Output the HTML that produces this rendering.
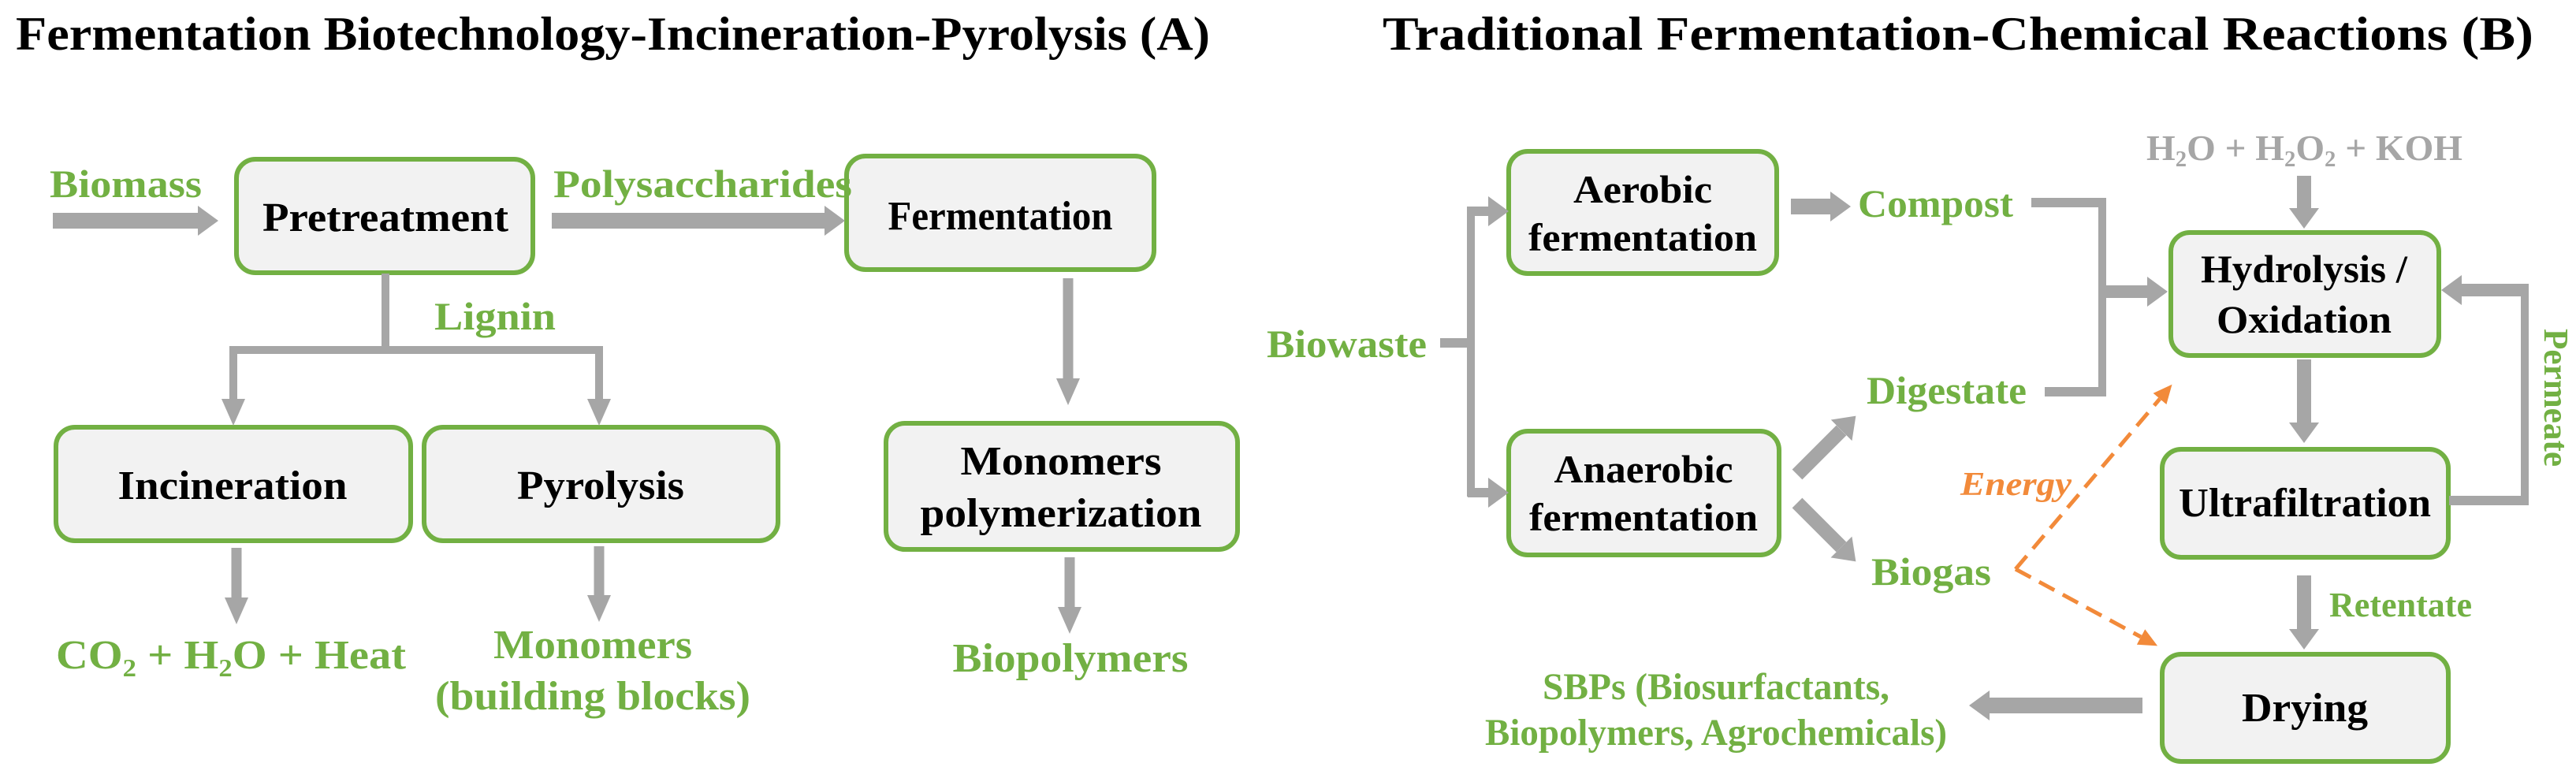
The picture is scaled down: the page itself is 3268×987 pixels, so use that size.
<!DOCTYPE html>
<html><head><meta charset="utf-8"><style>
html,body{margin:0;padding:0;background:#fff;}
svg{display:block;}
.t{font-family:"Liberation Serif","Times New Roman",serif;font-weight:bold;}
.g{fill:#72b043;}
.k{fill:#000;}
</style></head><body>
<svg width="3268" height="987" viewBox="0 0 3268 987" xmlns="http://www.w3.org/2000/svg">
<defs>
<marker id="hb" markerUnits="userSpaceOnUse" markerWidth="26" markerHeight="38" viewBox="0 0 26 38" refX="0" refY="19" orient="auto"><path d="M0,0 L26,19 L0,38 z" fill="#a6a6a6"/></marker>
<marker id="hs" markerUnits="userSpaceOnUse" markerWidth="34" markerHeight="30" viewBox="0 0 34 30" refX="0" refY="15" orient="auto"><path d="M0,0 L34,15 L0,30 z" fill="#a6a6a6"/></marker>
<marker id="ho" markerUnits="userSpaceOnUse" markerWidth="24" markerHeight="22" viewBox="0 0 24 22" refX="0" refY="11" orient="auto"><path d="M0,0 L24,11 L0,22 z" fill="#f28a3a"/></marker>
</defs>

<text class="t k" x="20" y="63" font-size="60" textLength="1515" lengthAdjust="spacingAndGlyphs">Fermentation  Biotechnology-Incineration-Pyrolysis (A)</text>
<text class="t k" x="1754" y="63" font-size="60" textLength="1460" lengthAdjust="spacingAndGlyphs">Traditional  Fermentation-Chemical Reactions (B)</text>

<g fill="#f2f2f2" stroke="#72b043" stroke-width="6">
<rect x="300" y="202" width="376" height="144" rx="24"/>
<rect x="1074" y="198" width="390" height="144" rx="24"/>
<rect x="71" y="542" width="450" height="144" rx="24"/>
<rect x="538" y="542" width="449" height="144" rx="24"/>
<rect x="1124" y="537" width="446" height="160" rx="24"/>
<rect x="1914" y="192" width="340" height="155" rx="24"/>
<rect x="1914" y="547" width="343" height="157" rx="24"/>
<rect x="2754" y="295" width="340" height="156" rx="24"/>
<rect x="2743" y="570" width="363" height="137" rx="24"/>
<rect x="2743" y="830" width="363" height="136" rx="24"/>
</g>

<g stroke="#a6a6a6" fill="none">
<line x1="67" y1="280" x2="251" y2="280" stroke-width="20" marker-end="url(#hb)"/>
<line x1="700" y1="280" x2="1046" y2="280" stroke-width="20" marker-end="url(#hb)"/>
<line x1="489" y1="347" x2="489" y2="444" stroke-width="10"/>
<line x1="291" y1="444" x2="765" y2="444" stroke-width="10"/>
<line x1="296" y1="444" x2="296" y2="506" stroke-width="10" marker-end="url(#hs)"/>
<line x1="760" y1="444" x2="760" y2="506" stroke-width="10" marker-end="url(#hs)"/>
<line x1="1355" y1="353" x2="1355" y2="480" stroke-width="13" marker-end="url(#hs)"/>
<line x1="300" y1="695" x2="300" y2="758" stroke-width="13" marker-end="url(#hs)"/>
<line x1="760" y1="693" x2="760" y2="755" stroke-width="13" marker-end="url(#hs)"/>
<line x1="1357" y1="707" x2="1357" y2="770" stroke-width="13" marker-end="url(#hs)"/>

<line x1="1827" y1="435" x2="1866" y2="435" stroke-width="12"/>
<line x1="1866" y1="262" x2="1866" y2="630" stroke-width="10"/>
<line x1="1862" y1="268" x2="1888" y2="268" stroke-width="12" marker-end="url(#hb)"/>
<line x1="1862" y1="625" x2="1888" y2="625" stroke-width="12" marker-end="url(#hb)"/>
<line x1="2272" y1="262" x2="2322" y2="262" stroke-width="20" marker-end="url(#hb)"/>
<line x1="2577" y1="257" x2="2667" y2="257" stroke-width="12"/>
<line x1="2667" y1="251" x2="2667" y2="503" stroke-width="10"/>
<line x1="2594" y1="497" x2="2667" y2="497" stroke-width="12"/>
<line x1="2662" y1="370" x2="2724" y2="370" stroke-width="16" marker-end="url(#hb)"/>
<line x1="2923" y1="223" x2="2923" y2="264" stroke-width="18" marker-end="url(#hb)"/>
<line x1="3107" y1="635" x2="3208" y2="635" stroke-width="12"/>
<line x1="3203" y1="641" x2="3203" y2="362" stroke-width="10"/>
<line x1="3208" y1="368" x2="3123" y2="368" stroke-width="16" marker-end="url(#hb)"/>
<line x1="2923" y1="456" x2="2923" y2="536" stroke-width="18" marker-end="url(#hb)"/>
<line x1="2923" y1="730" x2="2923" y2="798" stroke-width="18" marker-end="url(#hb)"/>
<line x1="2718" y1="895" x2="2524" y2="895" stroke-width="20" marker-end="url(#hb)"/>
<line x1="2280" y1="602" x2="2336" y2="546" stroke-width="18" marker-end="url(#hb)"/>
<line x1="2280" y1="638" x2="2336" y2="694" stroke-width="18" marker-end="url(#hb)"/>
</g>
<g stroke="#f28a3a" stroke-width="5" fill="none" stroke-dasharray="22 12">
<line x1="2557" y1="722" x2="2740" y2="506" marker-end="url(#ho)"/>
<line x1="2557" y1="722" x2="2716" y2="808" marker-end="url(#ho)"/>
</g>

<g class="t">
<text class="g" x="63" y="250" font-size="50" textLength="193" lengthAdjust="spacingAndGlyphs">Biomass</text>
<text class="g" x="702" y="250" font-size="50" textLength="379" lengthAdjust="spacingAndGlyphs">Polysaccharides</text>
<text class="g" x="551" y="418" font-size="50" textLength="154" lengthAdjust="spacingAndGlyphs">Lignin</text>
<text class="k" x="489" y="293" font-size="52" text-anchor="middle" textLength="312" lengthAdjust="spacingAndGlyphs">Pretreatment</text>
<text class="k" x="1269" y="291" font-size="52" text-anchor="middle" textLength="285" lengthAdjust="spacingAndGlyphs">Fermentation</text>
<text class="k" x="295" y="633" font-size="52" text-anchor="middle" textLength="291" lengthAdjust="spacingAndGlyphs">Incineration</text>
<text class="k" x="762" y="633" font-size="52" text-anchor="middle" textLength="212" lengthAdjust="spacingAndGlyphs">Pyrolysis</text>
<text class="k" x="1346" y="602" font-size="52" text-anchor="middle" textLength="255" lengthAdjust="spacingAndGlyphs">Monomers</text>
<text class="k" x="1346" y="668" font-size="52" text-anchor="middle" textLength="357" lengthAdjust="spacingAndGlyphs">polymerization</text>
<text class="g" x="71" y="848" font-size="52" textLength="444" lengthAdjust="spacingAndGlyphs">CO<tspan font-size="32" dy="10">2</tspan><tspan dy="-10"> + H</tspan><tspan font-size="32" dy="10">2</tspan><tspan dy="-10">O + Heat</tspan></text>
<text class="g" x="752" y="835" font-size="52" text-anchor="middle" textLength="252" lengthAdjust="spacingAndGlyphs">Monomers</text>
<text class="g" x="752" y="900" font-size="52" text-anchor="middle" textLength="400" lengthAdjust="spacingAndGlyphs">(building blocks)</text>
<text class="g" x="1358" y="852" font-size="52" text-anchor="middle" textLength="299" lengthAdjust="spacingAndGlyphs">Biopolymers</text>

<text class="k" x="2084" y="257" font-size="50" text-anchor="middle" textLength="176" lengthAdjust="spacingAndGlyphs">Aerobic</text>
<text class="k" x="2084" y="318" font-size="50" text-anchor="middle" textLength="290" lengthAdjust="spacingAndGlyphs">fermentation</text>
<text class="g" x="2357" y="275" font-size="50" textLength="197" lengthAdjust="spacingAndGlyphs">Compost</text>
<text x="2723" y="203" font-size="46" fill="#a6a6a6" font-family="Liberation Serif,serif" font-weight="bold" textLength="401" lengthAdjust="spacingAndGlyphs">H<tspan font-size="28" dy="8">2</tspan><tspan dy="-8">O + H</tspan><tspan font-size="28" dy="8">2</tspan><tspan dy="-8">O</tspan><tspan font-size="28" dy="8">2</tspan><tspan dy="-8"> + KOH</tspan></text>
<text class="k" x="2923" y="358" font-size="50" text-anchor="middle" textLength="262" lengthAdjust="spacingAndGlyphs">Hydrolysis /</text>
<text class="k" x="2923" y="422" font-size="50" text-anchor="middle" textLength="222" lengthAdjust="spacingAndGlyphs">Oxidation</text>
<text class="g" x="1607" y="453" font-size="50" textLength="203" lengthAdjust="spacingAndGlyphs">Biowaste</text>
<text class="g" x="2368" y="512" font-size="50" textLength="203" lengthAdjust="spacingAndGlyphs">Digestate</text>
<text class="k" x="2085" y="612" font-size="50" text-anchor="middle" textLength="227" lengthAdjust="spacingAndGlyphs">Anaerobic</text>
<text class="k" x="2085" y="673" font-size="50" text-anchor="middle" textLength="290" lengthAdjust="spacingAndGlyphs">fermentation</text>
<text class="g" x="2374" y="742" font-size="50" textLength="152" lengthAdjust="spacingAndGlyphs">Biogas</text>
<text x="2487" y="628" font-size="42" fill="#f28a3a" font-family="Liberation Serif,serif" font-style="italic" textLength="141" lengthAdjust="spacingAndGlyphs">Energy</text>
<text class="k" x="2924" y="655" font-size="52" text-anchor="middle" textLength="320" lengthAdjust="spacingAndGlyphs">Ultrafiltration</text>
<text x="2955" y="782" font-size="44" fill="#72b043" font-family="Liberation Serif,serif" textLength="181" lengthAdjust="spacingAndGlyphs">Retentate</text>
<text x="3228" y="417" font-size="44" fill="#72b043" font-family="Liberation Serif,serif" transform="rotate(90 3228 417)" textLength="175" lengthAdjust="spacingAndGlyphs">Permeate</text>
<text class="k" x="2924" y="915" font-size="52" text-anchor="middle" textLength="160" lengthAdjust="spacingAndGlyphs">Drying</text>
<text class="g" x="2177" y="887" font-size="48" text-anchor="middle" textLength="440" lengthAdjust="spacingAndGlyphs">SBPs (Biosurfactants,</text>
<text class="g" x="2177" y="945" font-size="48" text-anchor="middle" textLength="586" lengthAdjust="spacingAndGlyphs">Biopolymers, Agrochemicals)</text>
</g>
</svg>
</body></html>
